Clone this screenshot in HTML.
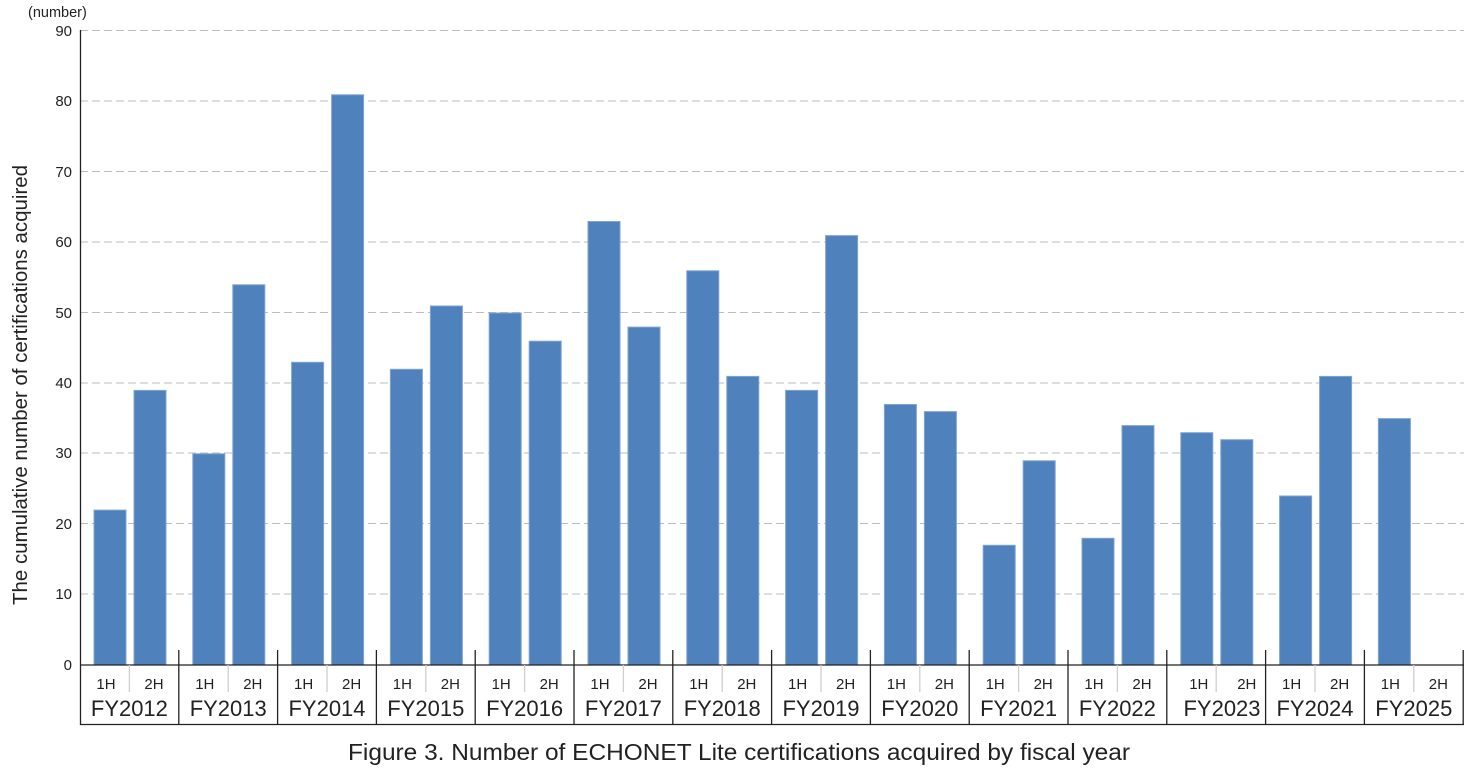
<!DOCTYPE html>
<html><head><meta charset="utf-8"><style>body{margin:0;background:#fff}svg{display:block}text{font-family:"Liberation Sans",sans-serif;fill:#222}</style></head><body>
<svg width="1480" height="770" viewBox="0 0 1480 770">
<g stroke="#bdbdbd" stroke-dasharray="8,4" stroke-width="1">
<line x1="80" x2="1464" y1="30.5" y2="30.5"/><line x1="80" x2="1464" y1="101" y2="101"/><line x1="80" x2="1464" y1="171.5" y2="171.5"/><line x1="80" x2="1464" y1="242" y2="242"/><line x1="80" x2="1464" y1="312.5" y2="312.5"/><line x1="80" x2="1464" y1="383" y2="383"/><line x1="80" x2="1464" y1="453" y2="453"/><line x1="80" x2="1464" y1="523.5" y2="523.5"/><line x1="80" x2="1464" y1="594" y2="594"/>
</g>
<g font-size="15" text-anchor="end">
<text x="72" y="36">90</text><text x="72" y="106">80</text><text x="72" y="177">70</text><text x="72" y="247">60</text><text x="72" y="318">50</text><text x="72" y="388">40</text><text x="72" y="458">30</text><text x="72" y="529">20</text><text x="72" y="599">10</text><text x="72" y="670">0</text>
</g>
<text x="28" y="17" font-size="14.5">(number)</text>
<text transform="translate(27,385) rotate(-90)" font-size="20" text-anchor="middle" textLength="440" lengthAdjust="spacingAndGlyphs">The cumulative number of certifications acquired</text>
<g fill="#4f81bd" stroke="#7fa3d3" stroke-width="1">
<rect x="94" y="510.1" width="32" height="154.9"/><rect x="134" y="390.4" width="32" height="274.6"/>
<rect x="192.8" y="453.8" width="32" height="211.2"/><rect x="232.8" y="284.8" width="32" height="380.2"/>
<rect x="291.6" y="362.3" width="32" height="302.7"/><rect x="331.6" y="94.8" width="32" height="570.2"/>
<rect x="390.4" y="369.3" width="32" height="295.7"/><rect x="430.4" y="306" width="32" height="359"/>
<rect x="489.2" y="313" width="32" height="352"/><rect x="529.2" y="341.2" width="32" height="323.8"/>
<rect x="588" y="221.5" width="32" height="443.5"/><rect x="628" y="327.1" width="32" height="337.9"/>
<rect x="686.8" y="270.8" width="32" height="394.2"/><rect x="726.8" y="376.4" width="32" height="288.6"/>
<rect x="785.6" y="390.4" width="32" height="274.6"/><rect x="825.6" y="235.6" width="32" height="429.4"/>
<rect x="884.4" y="404.5" width="32" height="260.5"/><rect x="924.4" y="411.6" width="32" height="253.4"/>
<rect x="983.2" y="545.3" width="32" height="119.7"/><rect x="1023.2" y="460.8" width="32" height="204.2"/>
<rect x="1082" y="538.3" width="32" height="126.7"/><rect x="1122" y="425.6" width="32" height="239.4"/>
<rect x="1180.8" y="432.7" width="32" height="232.3"/><rect x="1220.8" y="439.7" width="32" height="225.3"/>
<rect x="1279.6" y="496" width="32" height="169"/><rect x="1319.6" y="376.4" width="32" height="288.6"/>
<rect x="1378.4" y="418.6" width="32" height="246.4"/>
</g>
<g stroke="#222" stroke-width="1.3">
<line x1="80.5" y1="30" x2="80.5" y2="725"/>
<line x1="80" y1="665" x2="1464" y2="665"/>
<line x1="80" y1="724.5" x2="1464" y2="724.5"/>
<line x1="178.8" y1="650" x2="178.8" y2="725"/><line x1="277.6" y1="650" x2="277.6" y2="725"/><line x1="376.4" y1="650" x2="376.4" y2="725"/><line x1="475.2" y1="650" x2="475.2" y2="725"/><line x1="574" y1="650" x2="574" y2="725"/><line x1="672.8" y1="650" x2="672.8" y2="725"/><line x1="771.6" y1="650" x2="771.6" y2="725"/><line x1="870.4" y1="650" x2="870.4" y2="725"/><line x1="969.2" y1="650" x2="969.2" y2="725"/><line x1="1068" y1="650" x2="1068" y2="725"/><line x1="1166.8" y1="650" x2="1166.8" y2="725"/><line x1="1265.6" y1="650" x2="1265.6" y2="725"/><line x1="1364.4" y1="650" x2="1364.4" y2="725"/><line x1="1463.2" y1="650" x2="1463.2" y2="725"/>
</g>
<g stroke="#cfcfcf" stroke-width="1.3">
<line x1="129.4" y1="665" x2="129.4" y2="692"/><line x1="228.2" y1="665" x2="228.2" y2="692"/><line x1="327" y1="665" x2="327" y2="692"/><line x1="425.8" y1="665" x2="425.8" y2="692"/><line x1="524.6" y1="665" x2="524.6" y2="692"/><line x1="623.4" y1="665" x2="623.4" y2="692"/><line x1="722.2" y1="665" x2="722.2" y2="692"/><line x1="821" y1="665" x2="821" y2="692"/><line x1="919.8" y1="665" x2="919.8" y2="692"/><line x1="1018.6" y1="665" x2="1018.6" y2="692"/><line x1="1117.4" y1="665" x2="1117.4" y2="692"/><line x1="1216.2" y1="665" x2="1216.2" y2="692"/><line x1="1315" y1="665" x2="1315" y2="692"/><line x1="1413.8" y1="665" x2="1413.8" y2="692"/>
</g>
<g font-size="15" text-anchor="middle">
<text x="106" y="689">1H</text><text x="154" y="689">2H</text><text x="204.8" y="689">1H</text><text x="252.8" y="689">2H</text><text x="303.6" y="689">1H</text><text x="351.6" y="689">2H</text><text x="402.4" y="689">1H</text><text x="450.4" y="689">2H</text><text x="501.2" y="689">1H</text><text x="549.2" y="689">2H</text><text x="600" y="689">1H</text><text x="648" y="689">2H</text><text x="698.8" y="689">1H</text><text x="746.8" y="689">2H</text><text x="797.6" y="689">1H</text><text x="845.6" y="689">2H</text><text x="896.4" y="689">1H</text><text x="944.4" y="689">2H</text><text x="995.2" y="689">1H</text><text x="1043.2" y="689">2H</text><text x="1094" y="689">1H</text><text x="1142" y="689">2H</text><text x="1198.8" y="689">1H</text><text x="1246.8" y="689">2H</text><text x="1291.6" y="689">1H</text><text x="1339.6" y="689">2H</text><text x="1390.4" y="689">1H</text><text x="1438.4" y="689">2H</text>
</g>
<g font-size="22" text-anchor="middle">
<text x="129.4" y="716" textLength="77" lengthAdjust="spacingAndGlyphs">FY2012</text><text x="228.2" y="716" textLength="77" lengthAdjust="spacingAndGlyphs">FY2013</text><text x="327" y="716" textLength="77" lengthAdjust="spacingAndGlyphs">FY2014</text><text x="425.8" y="716" textLength="77" lengthAdjust="spacingAndGlyphs">FY2015</text><text x="524.6" y="716" textLength="77" lengthAdjust="spacingAndGlyphs">FY2016</text><text x="623.4" y="716" textLength="77" lengthAdjust="spacingAndGlyphs">FY2017</text><text x="722.2" y="716" textLength="77" lengthAdjust="spacingAndGlyphs">FY2018</text><text x="821" y="716" textLength="77" lengthAdjust="spacingAndGlyphs">FY2019</text><text x="919.8" y="716" textLength="77" lengthAdjust="spacingAndGlyphs">FY2020</text><text x="1018.6" y="716" textLength="77" lengthAdjust="spacingAndGlyphs">FY2021</text><text x="1117.4" y="716" textLength="77" lengthAdjust="spacingAndGlyphs">FY2022</text><text x="1222" y="716" textLength="77" lengthAdjust="spacingAndGlyphs">FY2023</text><text x="1315" y="716" textLength="77" lengthAdjust="spacingAndGlyphs">FY2024</text><text x="1413.8" y="716" textLength="77" lengthAdjust="spacingAndGlyphs">FY2025</text>
</g>
<text x="739" y="760" font-size="23" text-anchor="middle" textLength="782" lengthAdjust="spacingAndGlyphs">Figure 3. Number of ECHONET Lite certifications acquired by fiscal year</text>
</svg>
</body></html>
